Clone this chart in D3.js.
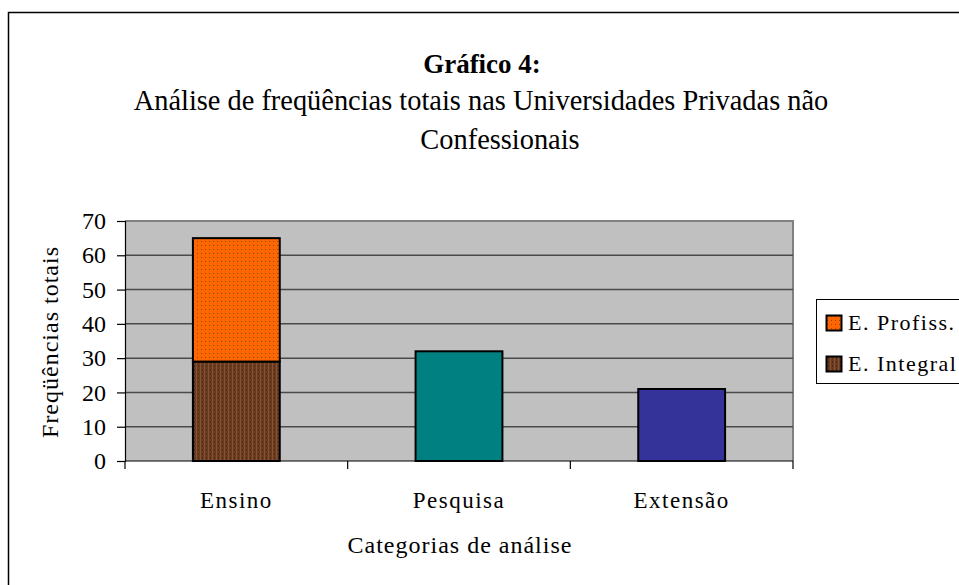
<!DOCTYPE html>
<html><head><meta charset="utf-8">
<script src="https://cdn.jsdelivr.net/npm/d3@7"></script>
<style>
html,body{margin:0;padding:0;background:#fff;}
svg{display:block;font-family:"Liberation Serif","Times New Roman",serif;}
</style></head>
<body><svg id="chart" width="959" height="585"></svg>
<script>
const categories = ["Ensino", "Pesquisa", "Extensão"];
const seriesNames = ["E. Integral", "E. Profiss.", "Pesquisa", "Extensão"];
const integralValues = [29, 0, 0];
const profissValues = [36, 0, 0];
const pesquisaValues = [0, 32, 0];
const extensaoValues = [0, 0, 21];
const yTicks = [0, 10, 20, 30, 40, 50, 60, 70];
const legendNames = ["E. Profiss.", "E. Integral"];
const titleLines = ["Gráfico 4:", "Análise de freqüências totais nas Universidades Privadas não", "Confessionais"];

const svg = d3.select("#chart");
const W = 959, H = 585;
const plot = {l:125, r:793, t:221, b:461};

// defs / patterns
const defs = svg.append("defs");
const pOr = defs.append("pattern").attr("id","pOrange").attr("patternUnits","userSpaceOnUse").attr("width",4).attr("height",4);
pOr.append("rect").attr("width",4).attr("height",4).attr("fill","#ff6600");
pOr.append("rect").attr("x",1).attr("y",1).attr("width",1).attr("height",1).attr("fill","#8a4a20");
const pBr = defs.append("pattern").attr("id","pBrown").attr("patternUnits","userSpaceOnUse").attr("width",4).attr("height",4);
pBr.append("rect").attr("width",4).attr("height",4).attr("fill","#6a3c22");
pBr.append("rect").attr("x",0).attr("y",0).attr("width",1).attr("height",4).attr("fill","#8a5030");
pBr.append("rect").attr("x",2).attr("y",1).attr("width",1).attr("height",2).attr("fill","#4e2c18");

const fills = {"E. Integral":"url(#pBrown)", "E. Profiss.":"url(#pOrange)", "Pesquisa":"#008080", "Extensão":"#333399"};

// outer border
svg.append("rect").attr("x",8.5).attr("y",12.5).attr("width",W+10).attr("height",H+10)
  .attr("fill","none").attr("stroke","#000").attr("stroke-width",1.5);

const x = d3.scaleBand().domain(categories).range([plot.l, plot.r]).paddingInner(0.61).paddingOuter(0.305);
const xOuter = d3.scaleBand().domain(categories).range([plot.l, plot.r]).padding(0);
const y = d3.scaleLinear().domain([0,70]).range([plot.b, plot.t]);

// plot bg
svg.append("rect").attr("x",plot.l).attr("y",plot.t).attr("width",plot.r-plot.l).attr("height",plot.b-plot.t)
  .attr("fill","#c0c0c0");
svg.append("path").attr("d",`M${plot.l},${plot.t}H${plot.r}V${plot.b}`).attr("fill","none").attr("stroke","#808080").attr("stroke-width",2);

// gridlines
svg.append("g").selectAll("line").data(yTicks.filter(d=>d>0 && d<70)).join("line")
  .attr("x1",plot.l).attr("x2",plot.r).attr("y1",d=>y(d)).attr("y2",d=>y(d))
  .attr("stroke","#4a4a4a").attr("stroke-width",1.5);

// stacked data
const rows = categories.map((c,i)=>({cat:c, "E. Integral":integralValues[i], "E. Profiss.":profissValues[i], "Pesquisa":pesquisaValues[i], "Extensão":extensaoValues[i]}));
const stack = d3.stack().keys(seriesNames)(rows);
svg.append("g").selectAll("g").data(stack).join("g")
  .attr("fill",d=>fills[d.key])
  .selectAll("rect").data(d=>d.filter(p=>p[1]-p[0]>0)).join("rect")
  .attr("x",d=>x(d.data.cat)).attr("width",x.bandwidth())
  .attr("y",d=>y(d[1])).attr("height",d=>y(d[0])-y(d[1]))
  .attr("stroke","#000").attr("stroke-width",2);

// y axis
const yAxis = d3.axisLeft(y).tickValues(yTicks).tickSize(8).tickPadding(11).tickFormat(d3.format("d"));
const gy = svg.append("g").attr("transform",`translate(${plot.l},0)`).call(yAxis);
gy.select(".domain").attr("stroke","#000").attr("stroke-width",1.2);
gy.selectAll(".tick line").attr("stroke","#000").attr("stroke-width",1.2);
gy.selectAll("text").attr("font-family","Liberation Serif").attr("font-size",24).attr("fill","#000");

// x axis
const gx = svg.append("g").attr("transform",`translate(0,${plot.b})`);
gx.append("line").attr("x1",plot.l).attr("x2",plot.r).attr("stroke","#000").attr("stroke-width",1.2);
const bounds = [plot.l].concat(categories.map(c=>xOuter(c)+xOuter.bandwidth()));
gx.selectAll("line.tk").data(bounds).join("line").attr("class","tk")
  .attr("x1",d=>d).attr("x2",d=>d).attr("y1",0).attr("y2",8).attr("stroke","#000").attr("stroke-width",1.2);
gx.selectAll("text").data(categories).join("text")
  .attr("x",d=>xOuter(d)+xOuter.bandwidth()/2).attr("y",47)
  .attr("text-anchor","middle").attr("font-size",23).attr("letter-spacing",1.5).text(d=>d);

// axis titles
svg.append("text").attr("x",460).attr("y",553).attr("text-anchor","middle").attr("font-size",24).attr("letter-spacing",1).text("Categorias de análise");
svg.append("text").attr("transform","translate(58,342) rotate(-90)").attr("text-anchor","middle").attr("font-size",24).attr("letter-spacing",1).text("Freqüências totais");

// title
svg.append("text").attr("x",482).attr("y",73).attr("text-anchor","middle").attr("font-size",27).attr("font-weight","bold").text(titleLines[0]);
svg.append("text").attr("x",481).attr("y",110).attr("text-anchor","middle").attr("font-size",28.4).text(titleLines[1]);
svg.append("text").attr("x",500).attr("y",149).attr("text-anchor","middle").attr("font-size",28.4).text(titleLines[2]);

// legend
const lg = svg.append("g");
lg.append("rect").attr("x",816.5).attr("y",299.5).attr("width",200).attr("height",84).attr("fill","#fff").attr("stroke","#000").attr("stroke-width",1);
const lgItems = lg.selectAll("g").data(legendNames).join("g").attr("transform",(d,i)=>`translate(826,${323+i*41})`);
lgItems.append("rect").attr("x",0.5).attr("y",-7.5).attr("width",15).attr("height",15).attr("fill",d=>fills[d]).attr("stroke","#000").attr("stroke-width",2);
lgItems.append("text").attr("x",22).attr("y",7).attr("font-size",22).attr("letter-spacing",1.5).text(d=>d);
</script></body></html>
